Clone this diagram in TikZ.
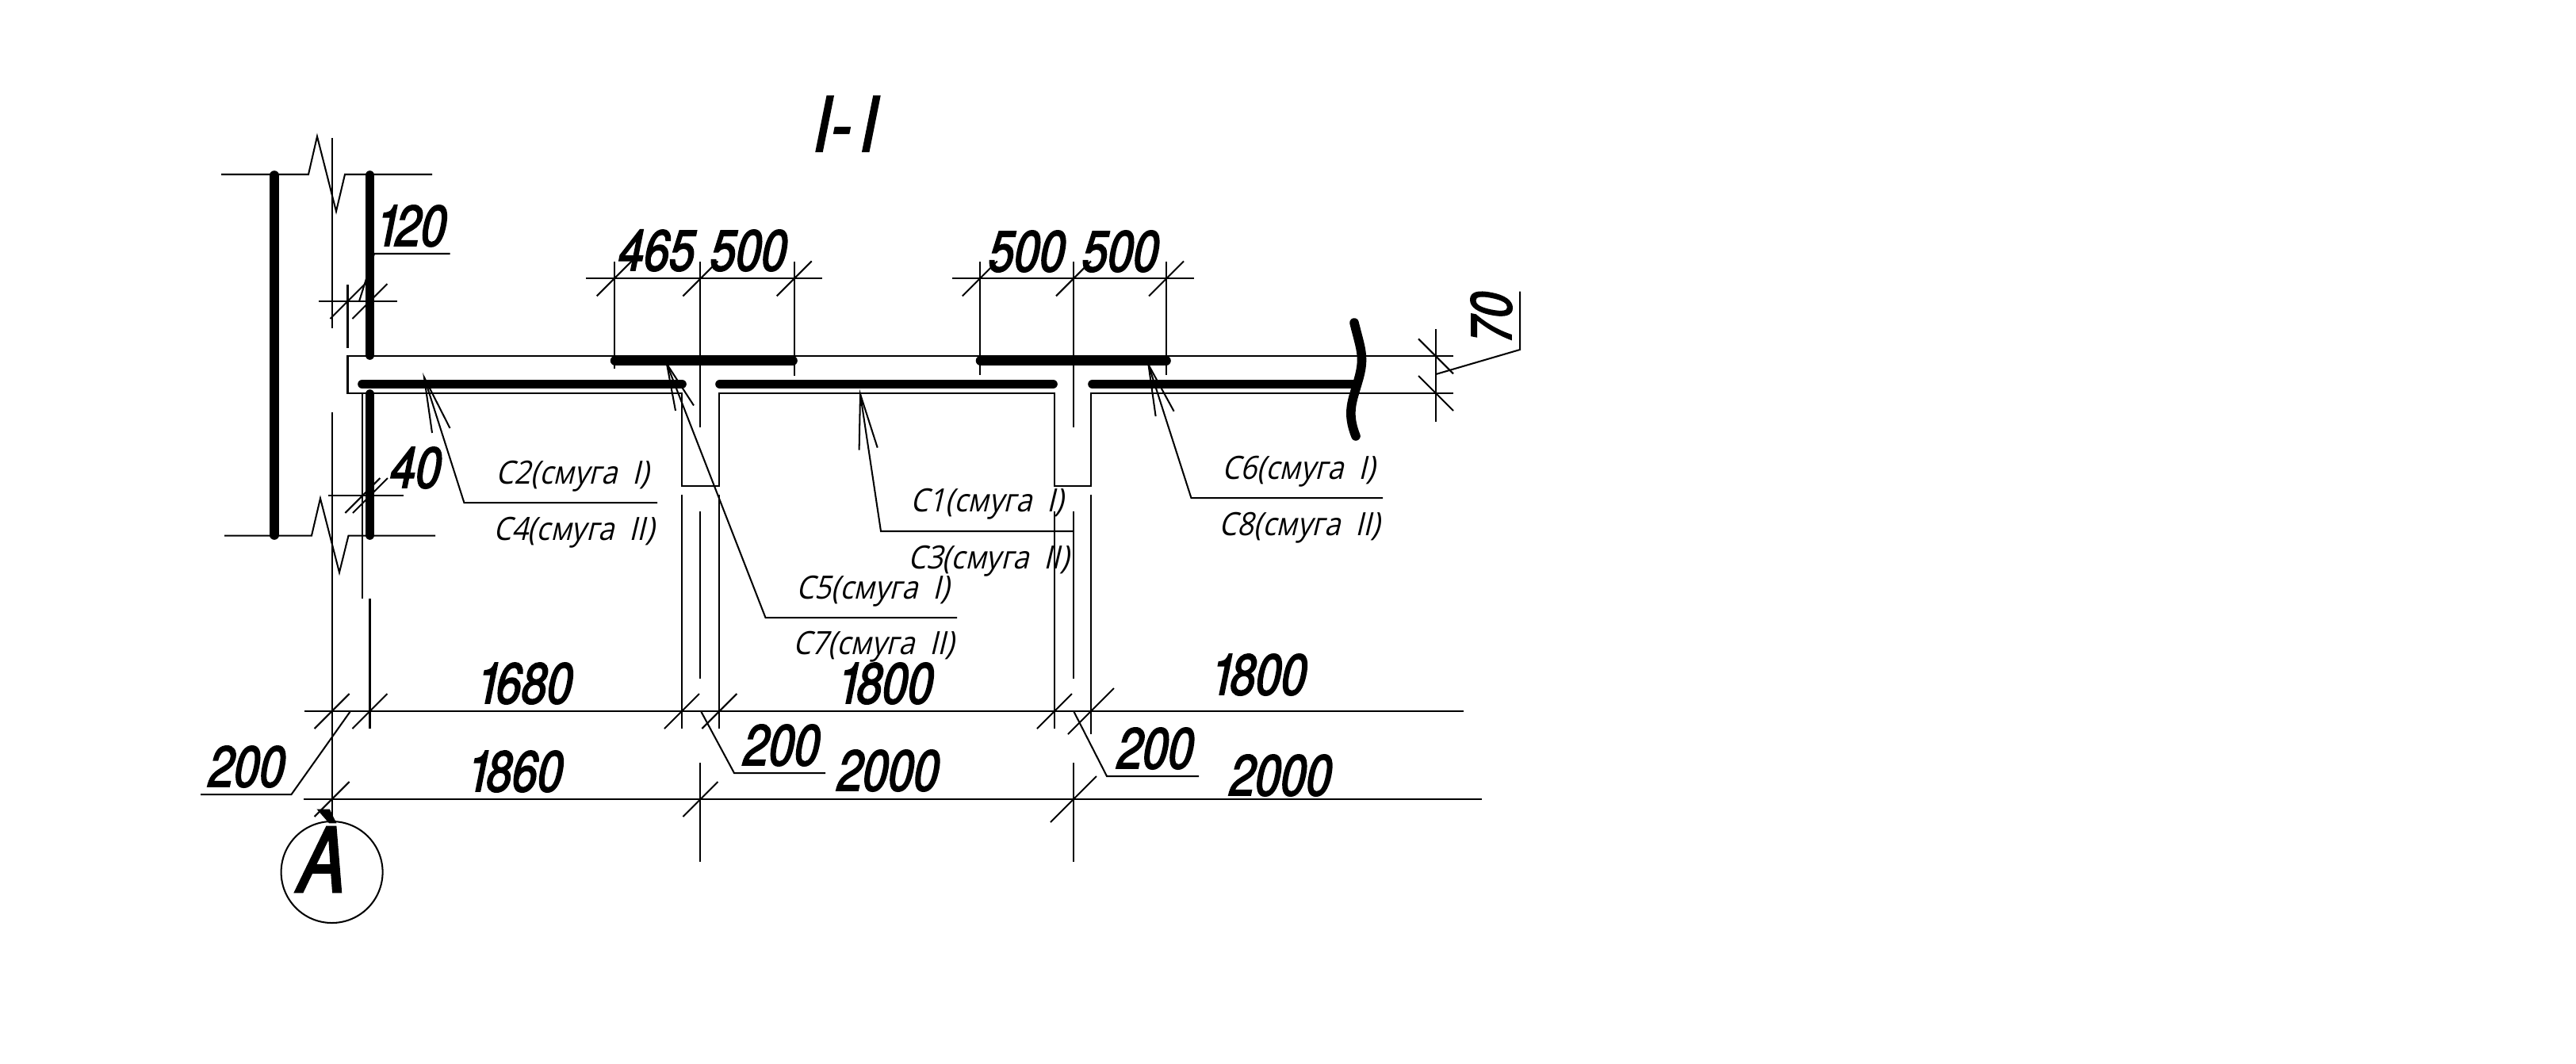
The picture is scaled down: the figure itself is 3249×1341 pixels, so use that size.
\documentclass[tikz,border=0pt]{standalone}
\usepackage{fontspec}
\newfontfamily\dimfont[FakeSlant=.2,FakeStretch=.8,FakeBold=2.5]{TeX Gyre Heros}
\newfontfamily\notefont[FakeSlant=.24,FakeStretch=.9]{Open Sans}
\tikzset{
    thin line/.style={line width=0.58pt},
    bar/.style={line width=3.3pt,line cap=round},
    dimtext/.style={font=\dimfont\fontsize{20.5}{20.5}\selectfont,inner sep=0pt,anchor=base},
    notetext/.style={font=\notefont\fontsize{11.5}{11.5}\selectfont,inner sep=0pt,anchor=base}
}
% slash tick across a dimension line
\newcommand{\tickat}[3][22]{\draw[thin line] (#2,#3)++(-#1,#1)--++(2*#1,-2*#1);}
\newcommand{\backtick}[2]{\draw[thin line] (#1,#2)++(-22,-22)--++(44,44);}
% arrow of a leader: three lines from the tip
\newcommand{\wings}[3]{\draw[thin line] (#2)--(#1)--(#3);}
\begin{document}
\begin{tikzpicture}[x=0.01cm,y=-0.01cm]
    \useasboundingbox (0,0) rectangle (3249,1341);
    \fill[white] (0,0) rectangle (3249,1341);

    \node[font=\dimfont\fontsize{27}{27}\selectfont,inner sep=0pt,anchor=base] (title) at (1062,190.7) {I\kern.3pt-\kern3.2pt I};

    % wall
    \draw[bar] (346,221)--(346,675);
    \draw[bar] (466.5,221)--(466.5,448);
    \draw[bar] (466.5,497)--(466.5,675);
    \draw[thin line] (279,220)--(389,220)--(400,172)--(424,266.5)--(435,220)--(545,220);
    \draw[thin line] (283,675.5)--(393,675.5)--(404,628.6)--(428,722)--(439.5,675.5)--(549,675.5);

    % slab and ribs
    \draw[thin line] (1833,449.4)--(438.5,449.4)--(438.5,496)--(860,496)--(860,613)--(907.3,613)--(907.3,496)
        --(1330,496)--(1330,613)--(1376,613)--(1376,496)--(1833,496);
    \draw[bar] (457,484.5)--(860,484.5);
    \draw[bar] (908,484.5)--(1328,484.5);
    \draw[bar] (1378,484.5)--(1706,484.5);
    \draw[bar] (775.6,454.7)--(1000,454.7);
    \draw[bar] (1236.5,454.7)--(1471,454.7);
    \draw[bar] (1708,407) .. controls (1716,440) and (1722,450) .. (1713,480) .. controls (1706,505) and (1698,520) .. (1710,550);

    % extension lines
    \draw[thin line] (418.6,174)--(418.6,413.5) (418.6,520)--(418.6,1036);
    \draw[thin line] (438.5,359)--(438.5,439);
    \draw[thin line] (457.3,496)--(457.3,755);
    \draw[thin line] (466.5,755)--(466.5,919);
    \draw[thin line] (860,624)--(860,919);
    \draw[thin line] (907.3,624)--(907.3,919);
    \draw[thin line] (883.4,330)--(883.4,539) (883.4,645)--(883.4,856) (883.4,962)--(883.4,1087);
    \draw[thin line] (1330,645)--(1330,919);
    \draw[thin line] (1376,624)--(1376,926);
    \draw[thin line] (1354,330)--(1354,539) (1354,645)--(1354,856) (1354,962)--(1354,1087);
    \draw[thin line] (774.7,330)--(774.7,464.5);
    \draw[thin line] (1001.7,330)--(1001.7,473.5);
    \draw[thin line] (1235.8,330)--(1235.8,473);
    \draw[thin line] (1471,330)--(1471,473);

    % dimension lines
    \draw[thin line] (402,380)--(501,380);
    \draw[thin line] (414,625)--(509.4,625);
    \draw[thin line] (739,351.4)--(1037,351.4);
    \draw[thin line] (1201,351.4)--(1506,351.4);
    \draw[thin line] (384,897)--(1845.5,897);
    \draw[thin line] (383,1008)--(1868.5,1008);
    \draw[thin line] (1811,415)--(1811,532);
    \foreach \px/\py in {438.5/380,466.5/380,457.3/625,467/625,774.7/351.4,883.4/351.4,1001.7/351.4,
        1235.8/351.4,1354/351.4,1471/351.4,418.6/897,466.5/897,860/897,907.3/897,1330/897,418.6/1008,883.4/1008}
        {\tickat{\px}{\py}}
    \tickat[29]{1376}{897}
    \tickat[29]{1354}{1008}
    \backtick{1811}{449.4}
    \backtick{1811}{496}

    % leaders of the dimensions
    \draw[thin line] (453,380)--(472,320)--(567.5,320);
    \draw[thin line] (1811,472)--(1917,441)--(1917,367.5);
    \draw[thin line] (441.5,897.7)--(367.5,1002)--(253,1002);
    \draw[thin line] (884.4,897.7)--(926,975)--(1041,975);
    \draw[thin line] (1354.5,897.7)--(1396,979)--(1512,979);

    % leaders of the bars
    \draw[thin line] (535,476)--(585.4,634)--(829,634);
    \wings{535,476}{545,546}{567.5,540}
    \draw[thin line] (841,459)--(965.5,779)--(1207,779);
    \wings{841,459}{852,518}{875,511.4}
    \draw[thin line] (1085,497)--(1111,670)--(1354,670);
    \wings{1085,497}{1083.6,567.6}{1106.7,564.6}
    \draw[thin line] (1448.5,460)--(1502.4,628)--(1744,628);
    \wings{1448.5,460}{1457.6,525}{1480.6,518.7}

    % axis mark
    \node[draw,circle,thin line,minimum size=128*0.01cm,inner sep=0pt] (axisA) at (418.6,1100) {};
    \node[font=\dimfont\fontsize{32}{32}\selectfont,inner sep=0pt,anchor=base] (axisAtext) at (401,1125) {À};

    % dimension texts
    \node[dimtext] (dimA) at (515,310) {1\kern-2pt 20};
    \node[dimtext] (dimB) at (521,615) {40};
    \node[dimtext] (dimC) at (825,341) {465};
    \node[dimtext] (dimD) at (941,341) {500};
    \node[dimtext] (dimE) at (1292,342) {500};
    \node[dimtext] (dimF) at (1410,342) {500};
    \node[dimtext,rotate=90] (dimG) at (1906,404) {70};
    \node[dimtext] (dimH) at (658,887) {1\kern-2pt 680};
    \node[dimtext] (dimI) at (646,998) {1\kern-2pt 860};
    \node[dimtext] (dimJ) at (1113,887) {1\kern-2pt 800};
    \node[dimtext] (dimK) at (1584,876) {1\kern-2pt 800};
    \node[dimtext] (dimL) at (1117,997) {2000};
    \node[dimtext] (dimM) at (1612,1003) {2000};
    \node[dimtext] (dimN) at (308,992) {200};
    \node[dimtext] (dimO) at (982.5,965) {200};
    \node[dimtext] (dimP) at (1454,969) {200};

    % bar notes
    \node[notetext] (noteA) at (722,610) {C2(смуга~~I)};
    \node[notetext] (noteB) at (723.5,681.6) {C4(смуга~~II)};
    \node[notetext] (noteC) at (1101,755) {C5(смуга~~I)};
    \node[notetext] (noteD) at (1102,825) {C7(смуга~~II)};
    \node[notetext] (noteE) at (1245,645) {C1(смуга~~I)};
    \node[notetext] (noteF) at (1246.5,717) {C3(смуга~~II)};
    \node[notetext] (noteG) at (1638,604) {C6(смуга~~I)};
    \node[notetext] (noteH) at (1639,675) {C8(смуга~~II)};
\end{tikzpicture}
\end{document}
